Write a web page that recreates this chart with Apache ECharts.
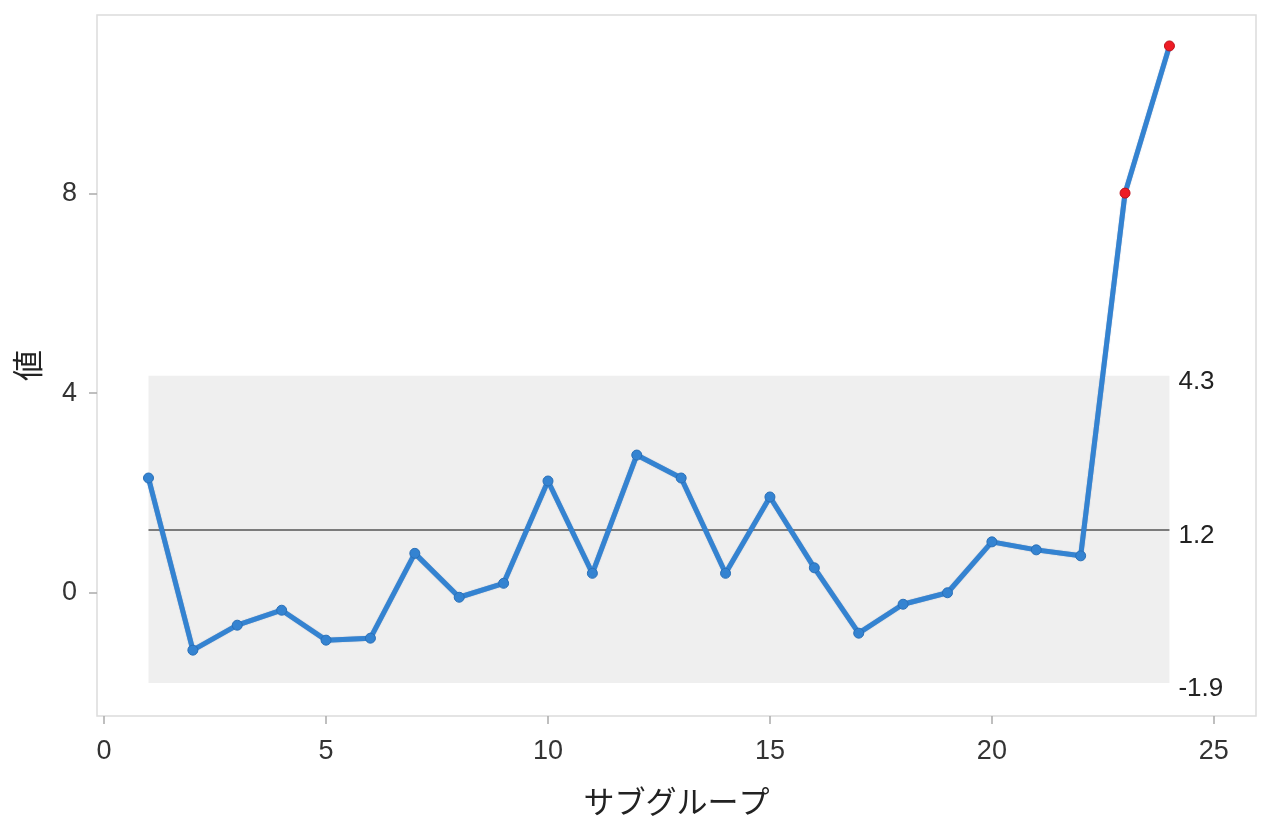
<!DOCTYPE html>
<html>
<head>
<meta charset="utf-8">
<script src="https://cdn.jsdelivr.net/npm/echarts@6/dist/echarts.min.js"></script>
<style>html,body{margin:0;padding:0;background:#fff;}#c{width:1265px;height:832px;}</style>
</head>
<body>
<div id="c"></div>
<script>
const subgroups = [1,2,3,4,5,6,7,8,9,10,11,12,13,14,15,16,17,18,19,20,21,22,23,24];
const values = [2.30,-1.15,-0.65,-0.35,-0.95,-0.91,0.79,-0.09,0.19,2.24,0.39,2.76,2.30,0.39,1.92,0.50,-0.81,-0.23,0.0,1.02,0.86,0.74,8.01,10.96];
const outOfControl = [23,24];
const centerLine = 1.27;
const ucl = 4.35;
const lcl = -1.81;
const limitLabels = ['4.3','1.2','-1.9'];
const xTicks = [0,5,10,15,20,25];
const yTicks = [0,4,8];

const font = "'Liberation Sans', Arial, sans-serif";
const jpFont = "'Noto Sans CJK JP', sans-serif";

const pts = subgroups.map((s,i)=>{
  const out = outOfControl.includes(s);
  return {
    value:[s, values[i]],
    itemStyle: out ? {color:'#ee1c25', borderColor:'#c0101a', borderWidth:1} : undefined,
    symbolSize: out ? 10 : 10
  };
});

const chart = echarts.init(document.getElementById('c'), null, {renderer:'canvas'});
chart.setOption({
  animation:false,
  backgroundColor:'#fff',
  grid:{left:97, right:9, top:15, bottom:116, outerBoundsMode:'none', containLabel:false, show:true, borderColor:'#dcdcdc', borderWidth:1.5, backgroundColor:'#fff'},
  xAxis:{
    type:'value', min:-0.16, max:25.95,
    name:'サブグループ', nameLocation:'middle', nameGap:70,
    nameTextStyle:{fontFamily:jpFont, fontSize:31, color:'#222'},
    axisLine:{show:false, onZero:false},
    splitLine:{show:false},
    axisTick:{show:true, length:8, lineStyle:{color:'#aaa', width:1.5}, customValues:xTicks},
    axisLabel:{fontFamily:font, fontSize:27, color:'#333', margin:22, customValues:xTicks}
  },
  yAxis:{
    type:'value', min:-2.47, max:11.58,
    name:'値', nameLocation:'middle', nameGap:54, nameRotate:90,
    nameTextStyle:{fontFamily:jpFont, fontSize:31, color:'#222'},
    axisLine:{show:false, onZero:false},
    splitLine:{show:false},
    axisTick:{show:true, length:8, lineStyle:{color:'#aaa', width:1.5}, customValues:yTicks},
    axisLabel:{fontFamily:font, fontSize:27, color:'#333', margin:20, customValues:yTicks}
  },
  series:[{
    type:'line',
    data:pts,
    symbol:'circle',
    symbolSize:10,
    showAllSymbol:true,
    z:5,
    lineStyle:{color:'#3483d1', width:5, shadowColor:'rgba(30,80,150,0.5)', shadowBlur:1},
    itemStyle:{color:'#3483d1', borderColor:'#2a70b8', borderWidth:1},
    markArea:{
      silent:true,
      itemStyle:{color:'#efefef'},
      data:[[{coord:[subgroups[0], ucl]},{coord:[subgroups[subgroups.length-1], lcl]}]]
    },
    markLine:{
      silent:true, symbol:'none',
      label:{position:'end', distance:9, offset:[0,6], fontFamily:font, fontSize:26, color:'#222', formatter:p=>p.data.labelText},
      data:[
        [{coord:[subgroups[0], ucl], labelText:limitLabels[0]},{coord:[subgroups[subgroups.length-1], ucl]}],
        [{coord:[subgroups[0], centerLine], labelText:limitLabels[1]},{coord:[subgroups[subgroups.length-1], centerLine]}],
        [{coord:[subgroups[0], lcl], labelText:limitLabels[2]},{coord:[subgroups[subgroups.length-1], lcl]}]
      ].map((d,i)=>{
        d[0].lineStyle = i===1 ? {color:'#555', width:1.5, type:'solid'} : {color:'rgba(0,0,0,0)', width:0, type:'solid'};
        return d;
      })
    }
  }]
});
</script>
</body>
</html>
